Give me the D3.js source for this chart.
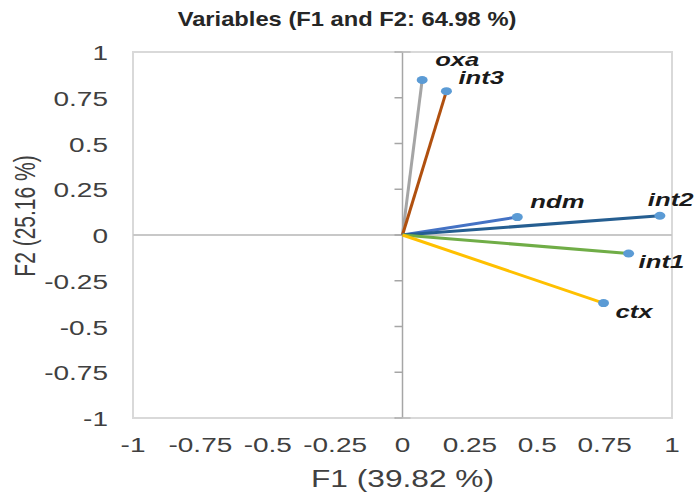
<!DOCTYPE html>
<html><head><meta charset="utf-8">
<script src="https://cdn.jsdelivr.net/npm/d3@7"></script>
<style>body{margin:0;background:#fff}svg{display:block}</style>
</head><body>
<svg id="c" width="694" height="493"></svg>
<script>
const variables = ["oxa", "int3", "ndm", "int2", "int1", "ctx"];
const f1 = [0.073, 0.163, 0.426, 0.955, 0.839, 0.746];
const f2 = [0.847, 0.786, 0.098, 0.105, -0.101, -0.372];
const lineColors = ["#a5a5a5", "#b0500f", "#4472c4", "#255e91", "#70ad47", "#ffc000"];
const ticks = [-1, -0.75, -0.5, -0.25, 0, 0.25, 0.5, 0.75, 1];
const tickLabels = ["-1", "-0.75", "-0.5", "-0.25", "0", "0.25", "0.5", "0.75", "1"];
const title = "Variables (F1 and F2: 64.98 %)";
const xTitle = "F1 (39.82 %)";
const yTitle = "F2 (25.16 %)";
const labelOffsets = [[13, -14], [12, -7], [13, -9], [-12, -10], [10, 15], [12, 15]];

const svg = d3.select("#c");
const x = d3.scaleLinear().domain([-1, 1]).range([133, 672]);
const y = d3.scaleLinear().domain([-1, 1]).range([418, 52]);
const font = "Liberation Sans, Arial, sans-serif";
const SX = 1.4; // horizontal stretch of the reference picture

function stretched(g, px, py, txt, size, anchor, sx) {
  return g.append("text").attr("transform", `translate(${px},${py}) scale(${sx},1)`)
    .attr("text-anchor", anchor).attr("font-family", font).attr("font-size", size).text(txt);
}

stretched(svg, 347, 26, title, 21, "middle", 1.13).attr("font-weight", "bold").attr("fill", "#262626");

// frame
svg.append("rect").attr("x", x(-1)).attr("y", y(1)).attr("width", x(1) - x(-1)).attr("height", y(-1) - y(1))
  .attr("fill", "none").attr("stroke", "#d9d9d9").attr("stroke-width", 2);

// zero lines
svg.append("line").attr("x1", x(-1)).attr("x2", x(1)).attr("y1", y(0)).attr("y2", y(0))
  .attr("stroke", "#c8c8c8").attr("stroke-width", 2);
svg.append("line").attr("x1", x(0)).attr("x2", x(0)).attr("y1", y(1)).attr("y2", y(-1))
  .attr("stroke", "#a6a6a6").attr("stroke-width", 1.5);

// ticks on vertical zero line
svg.append("g").selectAll("line").data(ticks).join("line")
  .attr("x1", d => x(0) - 8).attr("x2", d => x(0)).attr("y1", d => y(d)).attr("y2", d => y(d))
  .attr("stroke", "#a6a6a6").attr("stroke-width", 1.5);
svg.append("line").attr("x1", x(0) - 7).attr("x2", x(0) + 8).attr("y1", y(-1)).attr("y2", y(-1))
  .attr("stroke", "#bdbdbd").attr("stroke-width", 1.5);
svg.append("line").attr("x1", x(0) - 7).attr("x2", x(0) + 8).attr("y1", y(1)).attr("y2", y(1))
  .attr("stroke", "#bdbdbd").attr("stroke-width", 1.5);

// tick labels
const gy = svg.append("g").attr("fill", "#404040");
ticks.forEach((d, i) => stretched(gy, 108, y(d) + 8, tickLabels[i], 20, "end", SX));
const gx = svg.append("g").attr("fill", "#404040");
ticks.forEach((d, i) => stretched(gx, x(d), 452, tickLabels[i], 20, "middle", SX));

// axis titles
stretched(svg, x(0), 487, xTitle, 24, "middle", 1.32).attr("fill", "#404040");
svg.append("text").attr("transform", `translate(35,216) scale(${SX},1) rotate(-90)`).attr("text-anchor", "middle")
  .attr("font-family", font).attr("font-size", 21).attr("fill", "#404040").text(yTitle);

// vectors
const data = variables.map((v, i) => ({v, a: f1[i], b: f2[i], c: lineColors[i], o: labelOffsets[i]}));
svg.append("g").selectAll("line").data(data).join("line")
  .attr("x1", x(0)).attr("y1", y(0)).attr("x2", d => x(d.a)).attr("y2", d => y(d.b))
  .attr("stroke", d => d.c).attr("stroke-width", 3);
svg.append("g").selectAll("ellipse").data(data).join("ellipse")
  .attr("cx", d => x(d.a)).attr("cy", d => y(d.b)).attr("rx", 5.5).attr("ry", 4).attr("fill", "#5b9bd5");
const gl = svg.append("g").attr("fill", "#1a1a1a");
data.forEach(d => stretched(gl, x(d.a) + d.o[0], y(d.b) + d.o[1], d.v, 19, "start", 1.35)
  .attr("font-weight", "bold").attr("font-style", "italic"));
</script>
</body></html>
